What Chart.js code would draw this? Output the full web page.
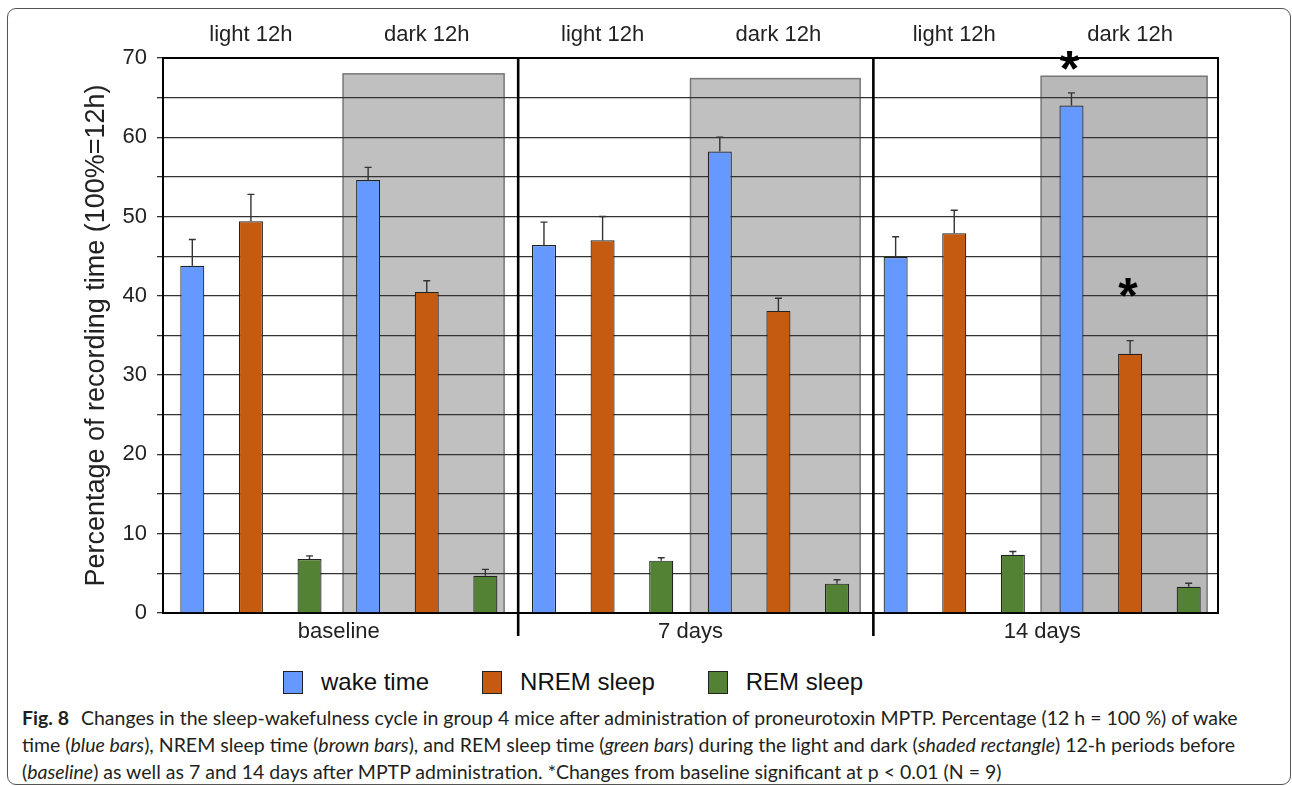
<!DOCTYPE html>
<html>
<head>
<meta charset="utf-8">
<script src="https://cdn.jsdelivr.net/npm/chart.js@4.4.1/dist/chart.umd.min.js"></script>
<style>
  html, body { margin: 0; padding: 0; background: #fff; overflow: hidden; }
  body { width: 1292px; height: 786px; position: relative; }
  .frame {
    position: absolute; left: 7px; top: 8px; width: 1284px; height: 777px;
    border: 1px solid #555; border-radius: 9px; box-sizing: border-box;
  }
  .plot { position: absolute; left: 0; top: 0; }
  .legend {
    position: absolute; left: 283px; top: 668px; display: flex; align-items: center;
    font-family: "Liberation Sans", Arial, sans-serif; font-size: 24px; color: #111;
  }
  .legend .item { display: flex; align-items: center; margin-right: 53px; }
  .legend .box { width: 20px; height: 23px; box-sizing: border-box; border: 1.2px solid #222; margin-right: 18px; }
  .caption {
    position: absolute; left: 22px; top: 704px; width: 1262px;
    font-family: Lato, "Noto Sans", sans-serif; font-size: 19.5px; line-height: 27px;
    color: #231f20; white-space: nowrap;
  }
  .caption b { font-weight: 700; margin-right: 7px; }
</style>
</head>
<body>
<div class="frame"></div>
<div class="plot"><canvas id="sleepChart" width="1292" height="660"></canvas></div>
<div class="legend" id="legend"></div>
<div class="caption">
  <b>Fig. 8</b> Changes in the sleep-wakefulness cycle in group 4 mice after administration of proneurotoxin MPTP. Percentage (12 h = 100 %) of wake<br>
  time (<i>blue bars</i>), NREM sleep time (<i>brown bars</i>), and REM sleep time (<i>green bars</i>) during the light and dark (<i>shaded rectangle</i>) 12-h periods before<br>
  (<i>baseline</i>) as well as 7 and 14 days after MPTP administration. *Changes from baseline significant at p &lt; 0.01 (N = 9)
</div>
<script>
// periods along the x axis (light / dark for each time point)
const periods = ['light 12h', 'dark 12h', 'light 12h', 'dark 12h', 'light 12h', 'dark 12h'];
const timepoints = ['baseline', '7 days', '14 days'];

// % of recording time, mean values
const wake = [43.8, 54.6, 46.4, 58.2, 44.9, 64.0];
const nrem = [49.4, 40.5, 47.0, 38.1, 47.9, 32.7];
const rem  = [6.8, 4.7, 6.6, 3.7, 7.35, 3.3];

// upper error bars
const wakeErr = [3.3, 1.6, 2.9, 1.8, 2.55, 1.6];
const nremErr = [3.4, 1.4, 3.0, 1.6, 2.9, 1.65];
const remErr  = [0.4, 0.8, 0.37, 0.5, 0.4, 0.45];

// significance stars (y value of the star), per period
const wakeStars = [null, null, null, null, null, 70.1];
const nremStars = [null, null, null, null, null, 41.4];

// height of the shaded "dark" rectangles (baseline, 7 days, 14 days)
const darkShadeTop = [68.0, 67.4, 67.7];

const FONT = "'Liberation Sans', Arial, sans-serif";

const shadePlugin = {
    id: 'darkShade',
    beforeDraw(chart) {
        const {ctx} = chart;
        const x = chart.scales.x, y = chart.scales.y;
        const w = x.getPixelForValue(1) - x.getPixelForValue(0);
        const spans = [[-0.476, 0.44], [-0.5, 0.465], [-0.506, 0.438]];
        const fills = ['#c0c0c0', '#c0c0c0', '#b8b8b8'];
        darkShadeTop.forEach((top, k) => {
            const cx = x.getPixelForValue(2 * k + 1);
            const left = cx + spans[k][0] * w;
            const right = cx + spans[k][1] * w;
            const yt = y.getPixelForValue(top);
            const yb = y.getPixelForValue(0);
            ctx.save();
            ctx.fillStyle = fills[k];
            ctx.fillRect(left, yt, right - left, yb - yt);
            ctx.strokeStyle = '#777';
            ctx.lineWidth = 1.5;
            ctx.strokeRect(left, yt, right - left, yb - yt);
            ctx.restore();
        });
    }
};

const errorBarPlugin = {
    id: 'errorBars',
    afterDatasetsDraw(chart) {
        const {ctx} = chart;
        const y = chart.scales.y;
        const errs = [wakeErr, nremErr, remErr];
        ctx.save();
        ctx.strokeStyle = '#333';
        ctx.lineWidth = 1.4;
        chart.data.datasets.forEach((ds, d) => {
            chart.getDatasetMeta(d).data.forEach((bar, i) => {
                const top = y.getPixelForValue(ds.data[i] + errs[d][i]);
                ctx.beginPath();
                ctx.moveTo(bar.x, bar.y);
                ctx.lineTo(bar.x, top);
                ctx.moveTo(bar.x - 3.5, top);
                ctx.lineTo(bar.x + 3.5, top);
                ctx.stroke();
            });
        });

        // significance stars
        ctx.fillStyle = '#000';
        ctx.font = 'bold 50px ' + FONT;
        ctx.textAlign = 'center';
        ctx.textBaseline = 'alphabetic';
        [wakeStars, nremStars].forEach((stars, d) => {
            const meta = chart.getDatasetMeta(d);
            stars.forEach((v, i) => {
                if (v === null) return;
                ctx.fillText('*', meta.data[i].x - 2, y.getPixelForValue(v) + 0.57 * 50);
            });
        });
        ctx.restore();
    },
    afterDraw(chart) {
        const {ctx, chartArea} = chart;
        const x = chart.scales.x;
        ctx.save();
        ctx.strokeStyle = '#000';
        // right frame line
        ctx.lineWidth = 2;
        ctx.beginPath();
        ctx.moveTo(chartArea.right, chartArea.top);
        ctx.lineTo(chartArea.right, chartArea.bottom);
        ctx.stroke();
        // separators between time points
        ctx.lineWidth = 2.6;
        [1.52, 3.54].forEach(v => {
            const px = x.getPixelForValue(v);
            ctx.beginPath();
            ctx.moveTo(px, chartArea.top);
            ctx.lineTo(px, chartArea.bottom + 23);
            ctx.stroke();
        });
        ctx.restore();
    }
};

const ctx = document.getElementById('sleepChart').getContext('2d');
const chart = new Chart(ctx, {
    type: 'bar',
    data: {
        labels: periods,
        datasets: [
            { label: 'wake time', data: wake, backgroundColor: '#6699ff', borderColor: '#222', borderWidth: 1.2 },
            { label: 'NREM sleep', data: nrem, backgroundColor: '#c55a11', borderColor: '#222', borderWidth: 1.2 },
            { label: 'REM sleep', data: rem, backgroundColor: '#548235', borderColor: '#222', borderWidth: 1.2 }
        ]
    },
    options: {
        responsive: false,
        animation: false,
        categoryPercentage: 1.0,
        barPercentage: 0.41,
        layout: { padding: { top: 0, left: 0, right: 74, bottom: 0 } },
        plugins: {
            legend: { display: false },
            tooltip: { enabled: false }
        },
        scales: {
            x: {
                position: 'top',
                grid: { display: false },
                border: { display: true, color: '#000', width: 2 },
                ticks: { font: { family: FONT, size: 22 }, color: '#222', padding: 2 },
                afterFit(scale) { scale.height = 58; }
            },
            x2: {
                type: 'category',
                position: 'bottom',
                labels: timepoints,
                offset: true,
                grid: { display: false, drawTicks: false },
                border: { display: true, color: '#000', width: 2 },
                ticks: { font: { family: FONT, size: 22 }, color: '#222', padding: 6 },
                afterFit(scale) { scale.height = 47; }
            },
            y: {
                min: 0,
                max: 70,
                ticks: {
                    stepSize: 5,
                    font: { family: FONT, size: 22 },
                    color: '#222',
                    padding: 10,
                    callback: v => (v % 10 === 0 ? v : '')
                },
                grid: { color: '#333', lineWidth: 1.3, tickLength: 6 },
                border: { display: true, color: '#000', width: 2 },
                title: {
                    display: true,
                    text: 'Percentage of recording time (100%=12h)',
                    font: { family: FONT, size: 27 },
                    color: '#222',
                    padding: { top: 80, bottom: 0 }
                },
                afterFit(scale) { scale.width = 163; }
            }
        }
    },
    plugins: [shadePlugin, errorBarPlugin]
});

// legend drawn as html, built from the datasets
const legendEl = document.getElementById('legend');
chart.data.datasets.forEach(ds => {
    const item = document.createElement('div');
    item.className = 'item';
    item.innerHTML = '<span class="box" style="background:' + ds.backgroundColor + '"></span>' + ds.label;
    legendEl.appendChild(item);
});
</script>
</body>
</html>
